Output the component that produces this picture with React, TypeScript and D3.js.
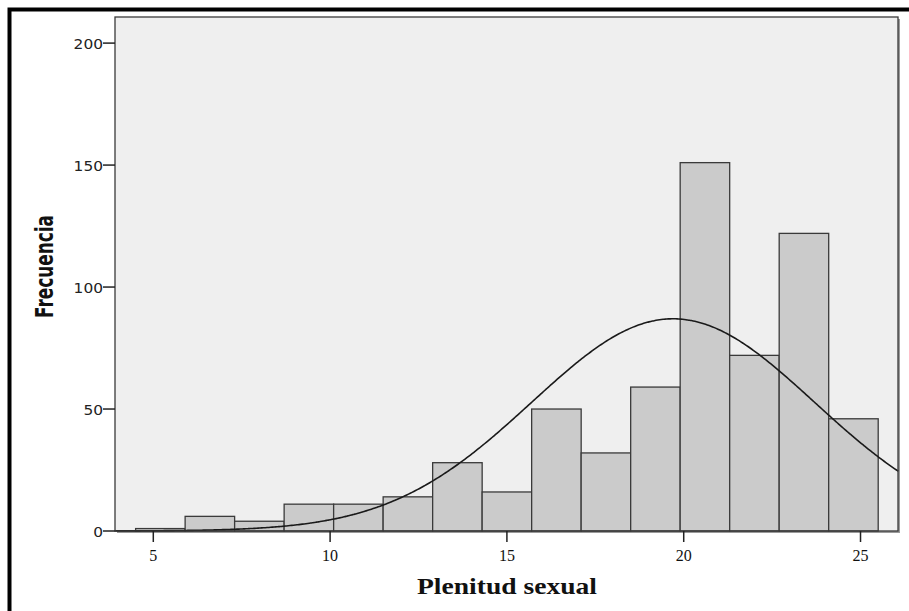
import React, { useRef, useEffect } from 'react';
import * as d3 from 'd3';

// histogram bins
const binEdges = [4.5, 5.9, 7.3, 8.7, 10.1, 11.5, 12.9, 14.3, 15.7, 17.1, 18.5, 19.9, 21.3, 22.7, 24.1, 25.5];
const binCounts = [1, 6, 4, 11, 11, 14, 28, 16, 50, 32, 59, 151, 72, 122, 46];
const xTicks = [5, 10, 15, 20, 25];
const yTicks = [0, 50, 100, 150, 200];

// normal curve stats
const curveMean = 19.7;
const curveSd = 4.0;

function Histogram() {
    const svgRef = useRef(null);

    useEffect(() => {
        const layout = { width: 909, height: 611, left: 115, top: 17, right: 898, bottom: 531 };
        const svg = d3.select(svgRef.current);
        svg.selectAll('*').remove();

        const xScale = d3.scaleLinear().domain([3.917, 26.06]).range([layout.left, layout.right]);
        const yScale = d3.scaleLinear().domain([0, 210.7]).range([layout.bottom, layout.top]);

        // outer frame (only top and left visible)
        svg.append('path')
            .attr('d', `M9.5,611 L9.5,9.5 L909,9.5`)
            .attr('fill', 'none')
            .attr('stroke', '#000')
            .attr('stroke-width', 4);

        // plot shadow + background
        svg.append('rect')
            .attr('x', layout.left + 2).attr('y', layout.top + 2)
            .attr('width', layout.right - layout.left).attr('height', layout.bottom - layout.top)
            .attr('fill', '#9a9a9a');
        svg.append('rect')
            .attr('x', layout.left).attr('y', layout.top)
            .attr('width', layout.right - layout.left).attr('height', layout.bottom - layout.top)
            .attr('fill', '#efefef');

        const bins = binCounts.map((c, i) => ({ x0: binEdges[i], x1: binEdges[i + 1], count: c }));
        svg.append('g')
            .selectAll('rect')
            .data(bins)
            .join('rect')
            .attr('x', d => xScale(d.x0))
            .attr('y', d => yScale(d.count))
            .attr('width', d => xScale(d.x1) - xScale(d.x0))
            .attr('height', d => yScale(0) - yScale(d.count))
            .attr('fill', '#cbcbcb')
            .attr('stroke', '#3a3a3a')
            .attr('stroke-width', 1.3);

        // normal curve
        const N = d3.sum(binCounts);
        const bw = binEdges[1] - binEdges[0];
        const pts = d3.range(xScale.domain()[0], xScale.domain()[1] + 0.01, 0.05).map(x => {
            const z = (x - curveMean) / curveSd;
            return [x, N * bw * Math.exp(-0.5 * z * z) / (curveSd * Math.sqrt(2 * Math.PI))];
        });
        const line = d3.line().x(d => xScale(d[0])).y(d => yScale(d[1])).curve(d3.curveMonotoneX);
        svg.append('path')
            .datum(pts)
            .attr('d', line)
            .attr('fill', 'none')
            .attr('stroke', '#1a1a1a')
            .attr('stroke-width', 1.6);

        // plot frame
        svg.append('rect')
            .attr('x', layout.left).attr('y', layout.top)
            .attr('width', layout.right - layout.left).attr('height', layout.bottom - layout.top)
            .attr('fill', 'none')
            .attr('stroke', '#3a3a3a')
            .attr('stroke-width', 1.3);

        // y axis ticks
        const yg = svg.append('g');
        yg.selectAll('line')
            .data(yTicks)
            .join('line')
            .attr('x1', layout.left - 12).attr('x2', layout.left)
            .attr('y1', d => yScale(d)).attr('y2', d => yScale(d))
            .attr('stroke', '#222').attr('stroke-width', 1.5);
        yg.selectAll('text')
            .data(yTicks)
            .join('text')
            .attr('x', layout.left - 12)
            .attr('y', d => yScale(d) + 5.5)
            .attr('text-anchor', 'end')
            .attr('textLength', d => String(d).length * 9.8)
            .attr('lengthAdjust', 'spacingAndGlyphs')
            .style('font-family', '"DejaVu Sans", sans-serif')
            .style('font-size', '14.5px')
            .attr('fill', '#222')
            .text(d => d);

        // x axis ticks
        const xg = svg.append('g');
        xg.selectAll('line')
            .data(xTicks)
            .join('line')
            .attr('x1', d => xScale(d)).attr('x2', d => xScale(d))
            .attr('y1', layout.bottom).attr('y2', layout.bottom + 11)
            .attr('stroke', '#222').attr('stroke-width', 1.5);
        xg.selectAll('text')
            .data(xTicks)
            .join('text')
            .attr('x', d => xScale(d))
            .attr('y', layout.bottom + 30)
            .attr('text-anchor', 'middle')
            .style('font-family', '"Liberation Serif", serif')
            .style('font-size', '16px')
            .attr('fill', '#111')
            .text(d => d);

        // axis titles
        svg.append('text')
            .attr('x', 417)
            .attr('y', 594)
            .attr('textLength', 180)
            .attr('lengthAdjust', 'spacingAndGlyphs')
            .style('font-family', '"Liberation Serif", serif')
            .style('font-size', '24px')
            .style('font-weight', 'bold')
            .attr('fill', '#111')
            .text('Plenitud sexual');

        svg.append('text')
            .attr('transform', `translate(53, 318) rotate(-90)`)
            .attr('textLength', 103)
            .attr('lengthAdjust', 'spacingAndGlyphs')
            .style('font-family', '"DejaVu Sans", sans-serif')
            .style('font-size', '24px')
            .style('font-weight', 'bold')
            .attr('fill', '#111')
            .text('Frecuencia');
    }, []);

    return <svg ref={svgRef} width={909} height={611} style={{ position: 'absolute', left: 0, top: 0, background: '#fff' }}></svg>;
}

export default function App() {
    return <Histogram />;
}
